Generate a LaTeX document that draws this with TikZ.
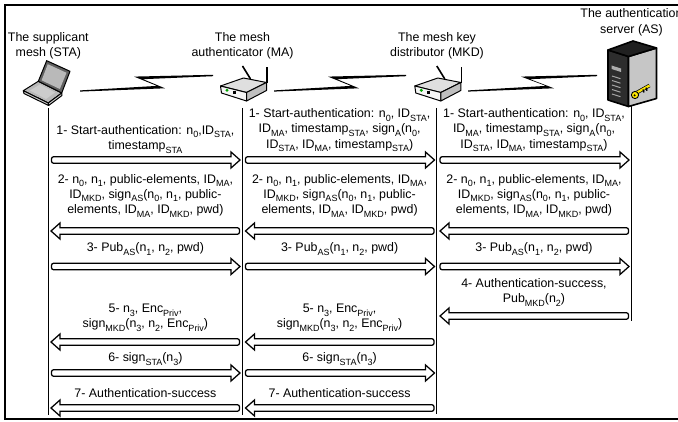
\documentclass[tikz,border=0pt]{standalone}
\usepackage{fontspec}
\setmainfont{Liberation Sans}
\newcommand\sbs[1]{\raisebox{-3.5pt}{\fontsize{9}{9}\selectfont #1}}
\newcommand\rarr[3]{%
 \draw[blk] ({#2},{#3}) -- ({#2-9},{#3-8}) -- ({#2-9},{#3-3.2}) [rounded corners=2pt] -- ({#1},{#3-3.2}) -- ({#1},{#3+3.2}) [sharp corners] -- ({#2-9},{#3+3.2}) -- ({#2-9},{#3+8}) -- cycle;}
\newcommand\larr[3]{%
 \draw[blk] ({#1},{#3}) -- ({#1+9},{#3-8}) -- ({#1+9},{#3-3.2}) [rounded corners=2pt] -- ({#2},{#3-3.2}) -- ({#2},{#3+3.2}) [sharp corners] -- ({#1+9},{#3+3.2}) -- ({#1+9},{#3+8}) -- cycle;}
\newcommand\bolt[4]{% x-left, x-tip, x-upper, x-right
 \fill[black] ({#1},91.6) -- ({#2},88.3) -- ({#3+9},79.2) -- ({#4},76.2) -- ({#4},74.8) -- ({#3},76.6) -- ({#2-8},85.9) -- ({#1},90.4) -- cycle;}
\begin{document}
\begin{tikzpicture}[x=1pt,y=-1pt,
  lbl/.style={font=\fontsize{12.4}{15.3}\selectfont, align=center, inner sep=0pt, anchor=south, text depth=0pt},
  life/.style={line width=1.2pt},
  blk/.style={draw, line width=1.25pt, fill=white, line join=miter},
  ol/.style={draw=black, line width=1pt, line join=round}]
\useasboundingbox (0,0) rectangle (678,422);
% frame
\draw[line width=1.4pt] (680,5) -- (5,5) -- (5,419) -- (680,419);

% headers
\node[lbl] (hsta) at (48.3,57) {The supplicant\\mesh (STA)};
\node[lbl] (hma) at (242.5,57) {The mesh\\authenticator (MA)};
\node[lbl] (hmkd) at (437,57) {The mesh key\\distributor (MKD)};
\node[lbl] (has) at (631.5,33.5) {The authentication\\server (AS)};

% lifelines
\coordinate (sta1) at (48.3,108); \coordinate (sta2) at (48.3,415);
\coordinate (ma1) at (242.5,108); \coordinate (ma2) at (242.5,415);
\coordinate (mkd1) at (436.8,108); \coordinate (mkd2) at (436.8,414);
\coordinate (as1) at (631.5,106); \coordinate (as2) at (631.5,321);
\draw[life] (sta1) -- (sta2);
\draw[life] (ma1) -- (ma2);
\draw[life] (mkd1) -- (mkd2);
\draw[life] (as1) -- (as2);

% bolts
\bolt{80}{165}{134}{213}
\bolt{274}{359}{328}{406}
\bolt{468}{554}{521}{597}

% laptop
\draw[ol, fill=gray!55] (23.3,90.7) -- (38.3,81.3) -- (61.7,93) -- (48.3,103) -- cycle;
\draw[ol, fill=gray!35] (23.3,90.7) -- (48.3,103) -- (48.6,105.5) -- (24,93.5) -- cycle;
\draw[ol, fill=gray!35] (48.3,103) -- (61.7,93) -- (62,95.5) -- (48.6,105.5) -- cycle;
\fill[gray!40] (30,90.5) -- (40,84.5) -- (55,92.5) -- (46,99) -- cycle;
\draw[ol, fill=gray!75!black] (46.7,60.7) -- (70,71.3) -- (61.7,93) -- (38.3,81.3) -- cycle;
\fill[gray!55] (47.8,64.2) -- (66.5,72.8) -- (59.8,89) -- (41.6,80.3) -- cycle;

% routers
\foreach \cx/\nm in {242.5/ma, 436.8/mkd}{
\begin{scope}[shift={(\cx,0)}]
 \draw[line width=1.6pt] (8,79) -- (0,66);
 \draw[ol, fill=gray!25] (-22,86) -- (1,78) -- (24,82.5) -- (4,92.5) -- cycle;
 \draw[ol, fill=gray!8] (-22,86) -- (4,92.5) -- (4,101) -- (-21,93) -- cycle;
 \draw[ol, fill=gray!50] (4,92.5) -- (24,82.5) -- (24,90.5) -- (4,101) -- cycle;
 \draw[line width=1.6pt] (24.5,83) -- (24.5,67);
 \fill[green!65!black] (-15.5,90.3) circle (1.7);
 \fill[black] (-9.5,91.2) rectangle (-6.8,94);
\end{scope}}

% server
\draw[line width=1.6pt, line join=round, fill=gray!35!black] (608,50) -- (628.5,56.5) -- (628.5,106.5) -- (608,100) -- cycle;
\draw[line width=1.6pt, line join=round, fill=gray!45] (628.5,56.5) -- (656.5,48) -- (656.5,98.5) -- (628.5,106.5) -- cycle;
\draw[line width=1.6pt, line join=round, fill=gray!25!black] (608,50) -- (633,41) -- (656.5,48) -- (628.5,56.5) -- cycle;
\fill[gray!65] (611.5,65.5) -- (621,68.5) -- (621,72) -- (611.5,69) -- cycle;
\foreach \yy in {76,80.5,85,89.5,94}{\draw[gray!70, line width=1pt] (612,\yy) -- (620.5,{\yy+2.7});}
\draw[line width=3.6pt] (637,92.5) -- (649.5,85.5);
\draw[line width=2.2pt, yellow!90!orange] (637,92.5) -- (649.5,85.5);
\draw[line width=0.9pt, fill=yellow!90!orange] (635,95) circle (3.6);
\fill[black] (634.6,95.3) circle (1.1);
\draw[line width=1.4pt] (643,89.5) -- (644,92.5);
\draw[line width=1.4pt] (646,87.7) -- (647,90.7);

% ---- messages ----
% row 1
\node[lbl] (t1a) at (145.4,150) {1- Start-authentication: n\sbs{0},ID\sbs{STA},\\timestamp\sbs{STA}};
\node[lbl] (t1b) at (339.6,148.5) {1- Start-authentication: n\sbs{0}, ID\sbs{STA},\\ID\sbs{MA}, timestamp\sbs{STA}, sign\sbs{A}(n\sbs{0},\\ID\sbs{STA}, ID\sbs{MA}, timestamp\sbs{STA})};
\node[lbl] (t1c) at (534,148.5) {1- Start-authentication: n\sbs{0}, ID\sbs{STA},\\ID\sbs{MA}, timestamp\sbs{STA}, sign\sbs{A}(n\sbs{0},\\ID\sbs{STA}, ID\sbs{MA}, timestamp\sbs{STA})};
\rarr{51.5}{240}{160}
\rarr{245.5}{434.5}{160}
\rarr{440}{629}{160}
% row 2
\node[lbl] (t2a) at (145.4,214) {2- n\sbs{0}, n\sbs{1}, public-elements, ID\sbs{MA},\\ID\sbs{MKD}, sign\sbs{AS}(n\sbs{0}, n\sbs{1}, public-\\elements, ID\sbs{MA}, ID\sbs{MKD}, pwd)};
\node[lbl] (t2b) at (339.6,214) {2- n\sbs{0}, n\sbs{1}, public-elements, ID\sbs{MA},\\ID\sbs{MKD}, sign\sbs{AS}(n\sbs{0}, n\sbs{1}, public-\\elements, ID\sbs{MA}, ID\sbs{MKD}, pwd)};
\node[lbl] (t2c) at (534,214) {2- n\sbs{0}, n\sbs{1}, public-elements, ID\sbs{MA},\\ID\sbs{MKD}, sign\sbs{AS}(n\sbs{0}, n\sbs{1}, public-\\elements, ID\sbs{MA}, ID\sbs{MKD}, pwd)};
\larr{51}{239.5}{231}
\larr{245.5}{434}{231}
\larr{440}{628.5}{231}
% row 3
\node[lbl] (t3a) at (145.4,252) {3- Pub\sbs{AS}(n\sbs{1}, n\sbs{2}, pwd)};
\node[lbl] (t3b) at (339.6,252) {3- Pub\sbs{AS}(n\sbs{1}, n\sbs{2}, pwd)};
\node[lbl] (t3c) at (534,252) {3- Pub\sbs{AS}(n\sbs{1}, n\sbs{2}, pwd)};
\rarr{51.5}{240}{266.5}
\rarr{245.5}{434.5}{266.5}
\rarr{440}{629}{266.5}
% row 4
\node[lbl] (t4c) at (534,303) {4- Authentication-success,\\Pub\sbs{MKD}(n\sbs{2})};
\larr{440}{628.5}{316}
% row 5
\node[lbl] (t5a) at (145.4,328) {5- n\sbs{3}, Enc\sbs{Priv},\\sign\sbs{MKD}(n\sbs{3}, n\sbs{2}, Enc\sbs{Priv})};
\node[lbl] (t5b) at (339.6,328) {5- n\sbs{3}, Enc\sbs{Priv},\\sign\sbs{MKD}(n\sbs{3}, n\sbs{2}, Enc\sbs{Priv})};
\larr{51}{239.5}{342}
\larr{245.5}{434}{342}
% row 6
\node[lbl] (t6a) at (145.4,362) {6- sign\sbs{STA}(n\sbs{3})};
\node[lbl] (t6b) at (339.6,362) {6- sign\sbs{STA}(n\sbs{3})};
\rarr{51.5}{240}{373}
\rarr{245.5}{434.5}{373}
% row 7
\node[lbl] (t7a) at (145.4,398) {7- Authentication-success};
\node[lbl] (t7b) at (339.6,398) {7- Authentication-success};
\larr{51}{239.5}{408}
\larr{245.5}{434}{408}
\end{tikzpicture}
\end{document}
